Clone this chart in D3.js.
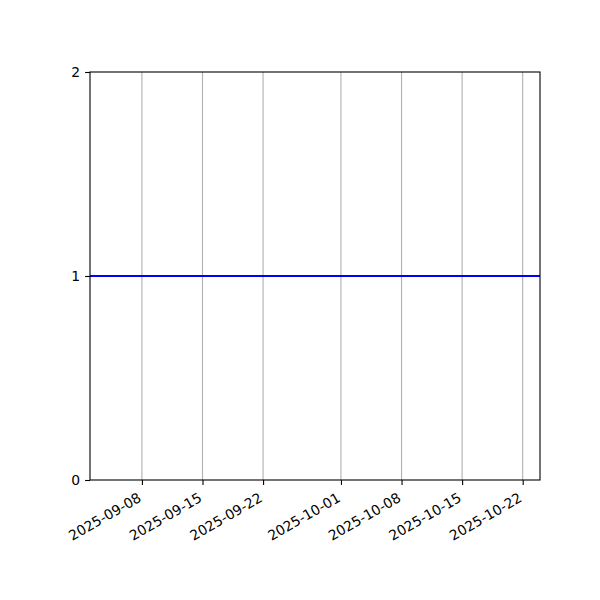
<!DOCTYPE html>
<html>
<head>
<meta charset="utf-8">
<script src="https://cdn.jsdelivr.net/npm/d3@7"></script>
<style>
  body { margin: 0; background: #fff; }
  text { font-family: "DejaVu Sans", sans-serif; }
</style>
</head>
<body>
<div id="chart"></div>
<script>
// data
var dates = ["2025-09-02", "2025-10-24"];
var values = [1, 1];
var xTicks = ["2025-09-08", "2025-09-15", "2025-09-22", "2025-10-01", "2025-10-08", "2025-10-15", "2025-10-22"];
var yTicks = [0, 1, 2];

var parse = d3.timeParse("%Y-%m-%d");
var fmt = d3.timeFormat("%Y-%m-%d");

var data = dates.map(function (d, i) {
    return { date: parse(d), value: values[i] };
});

var svgWidth = 600, svgHeight = 600;
var margin = { top: 72, right: 60, bottom: 120, left: 90 };
var width = svgWidth - margin.left - margin.right;
var height = svgHeight - margin.top - margin.bottom;

var svg = d3.select("#chart").append("svg")
    .attr("width", svgWidth)
    .attr("height", svgHeight);

var chartGroup = svg.append("g")
    .attr("transform", `translate(${margin.left}, ${margin.top})`);

var xScale = d3.scaleTime()
    .domain([parse("2025-09-02"), parse("2025-10-24")])
    .range([0, width]);

var yScale = d3.scaleLinear()
    .domain([0, 2])
    .range([height, 0]);

var tickDates = xTicks.map(parse);

// vertical grid lines
chartGroup.append("g")
    .selectAll("line")
    .data(tickDates)
    .enter()
    .append("line")
    .attr("x1", d => xScale(d))
    .attr("x2", d => xScale(d))
    .attr("y1", 0)
    .attr("y2", height)
    .attr("stroke", "#b0b0b0")
    .attr("stroke-width", 1.1);

// the line
var line = d3.line()
    .x(d => xScale(d.date))
    .y(d => yScale(d.value));

chartGroup.append("path")
    .datum(data)
    .attr("d", line)
    .attr("fill", "none")
    .attr("stroke", "#0000ff")
    .attr("stroke-width", 2);

// axes
var bottomAxis = d3.axisBottom(xScale)
    .tickValues(tickDates)
    .tickFormat(fmt)
    .tickSize(4.9)
    .tickSizeOuter(0);

var leftAxis = d3.axisLeft(yScale)
    .tickValues(yTicks)
    .tickFormat(d3.format("d"))
    .tickSize(4.9)
    .tickSizeOuter(0);

var xAxis = chartGroup.append("g")
    .attr("transform", `translate(0, ${height})`)
    .call(bottomAxis);

xAxis.select(".domain").remove();
xAxis.selectAll("line").attr("stroke", "#000").attr("stroke-width", 1.1);
xAxis.selectAll("text")
    .attr("fill", "#000")
    .attr("font-size", "13.9px")
    .attr("y", 0)
    .attr("dy", "-0.24em")
    .attr("text-anchor", "end")
    .attr("transform", "translate(1.5, 23.5) rotate(-30)");

var yAxis = chartGroup.append("g")
    .call(leftAxis);

yAxis.select(".domain").remove();
yAxis.selectAll("line").attr("stroke", "#000").attr("stroke-width", 1.1);
yAxis.selectAll("text")
    .attr("fill", "#000")
    .attr("font-size", "13.9px")
    .attr("x", -9.8)
    .attr("dy", "0.35em");

// frame
chartGroup.append("rect")
    .attr("x", 0)
    .attr("y", 0)
    .attr("width", width)
    .attr("height", height)
    .attr("fill", "none")
    .attr("stroke", "#000")
    .attr("stroke-width", 1.1);
</script>
</body>
</html>
